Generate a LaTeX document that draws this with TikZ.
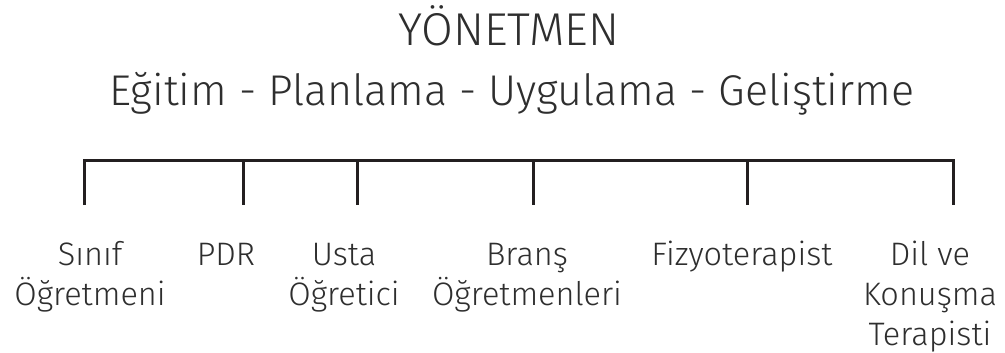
\documentclass[tikz,border=0pt]{standalone}
\usepackage{fontspec}
\setmainfont{Fira Sans}[UprightFont=* Light]
\definecolor{txt}{HTML}{2E2E2E}
\definecolor{ln}{HTML}{231F20}
\tikzset{
  lbl/.style={font=\fontsize{32.5}{40}\selectfont, inner sep=0pt, anchor=base, text=txt},
  bar/.style={draw=ln, line width=3pt, line cap=butt, line join=miter},
}
\newcommand{\lines}[1]{\begin{tabular}[t]{@{}c@{}}#1\end{tabular}}
\begin{document}
\begin{tikzpicture}[x=1pt,y=-1pt]
\useasboundingbox (0,0) rectangle (1005,353);
\node[lbl, font=\fontsize{46}{50}\selectfont] (title) at (509,46) {YÖNETMEN};
\node[lbl, font=\fontsize{43}{46}\selectfont] (sub) at (512,106) {Eğitim - Planlama - Uygulama - Geliştirme};
% bar
\coordinate (b1) at (84,160); \coordinate (t1) at (84,205);
\coordinate (b2) at (243,160); \coordinate (t2) at (243,205);
\coordinate (b3) at (357,160); \coordinate (t3) at (357,205);
\coordinate (b4) at (533,160); \coordinate (t4) at (533,205);
\coordinate (b5) at (747,160); \coordinate (t5) at (747,205);
\coordinate (b6) at (953,160); \coordinate (t6) at (953,205);
\draw[bar] (t1) -- (b1) -- (b6) -- (t6);
\draw[bar] (b2) -- (t2);
\draw[bar] (b3) -- (t3);
\draw[bar] (b4) -- (t4);
\draw[bar] (b5) -- (t5);
% labels
\node[lbl] (l1) at (90,265) {\lines{Sınıf\\Öğretmeni}};
\node[lbl] (l2) at (226,265) {\lines{PDR}};
\node[lbl] (l3) at (344,265) {\lines{Usta\\Öğretici}};
\node[lbl] (l4) at (527,265) {\lines{Branş\\Öğretmenleri}};
\node[lbl] (l5) at (742,265) {\lines{Fizyoterapist}};
\node[lbl] (l6) at (930,265) {\lines{Dil ve\\Konuşma\\Terapisti}};
\end{tikzpicture}
\end{document}
